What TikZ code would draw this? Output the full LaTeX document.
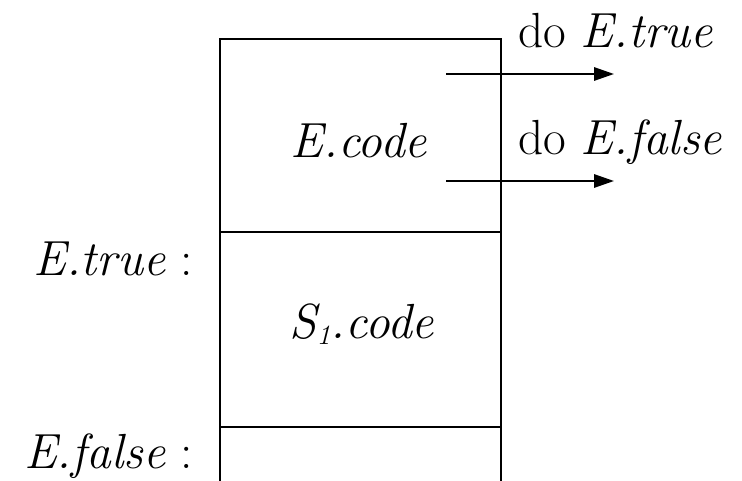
\documentclass[tikz,border=0pt]{standalone}
\usetikzlibrary{arrows.meta}
\tikzset{
  rotulo/.style={inner sep=0pt, font=\fontsize{37}{44}\selectfont},
  seta/.style={-{Triangle[length=15pt,width=10pt]}, line width=1.5pt}
}
\newcommand{\indice}[1]{\raisebox{-0.3ex}{\fontsize{21}{25}\selectfont\itshape #1}}
\begin{document}
\begin{tikzpicture}[x=0.75pt,y=-0.75pt, line width=1.5pt] %Início do desenho, 1 unidade = 1 pixel
  \useasboundingbox (0,0) rectangle (742,481);
					%Caixa do código
  \draw (220,481) -- (220,39) -- (501,39) -- (501,481); %Contorno
  \draw (220,232) -- (501,232); %Divisão E.code / S1.code
  \draw (220,427) -- (501,427); %Divisão S1.code / E.false
					%Textos
  \node[rotulo, anchor=base] (ecode) at (359,157) {\textit{E.code}};
  \node[rotulo, anchor=base] (scode) at (362,338) {\textit{S\indice{1}.code}};
  \node[rotulo, anchor=base east] (etrue) at (194,275) {\textit{E.true} :};
  \node[rotulo, anchor=base east] (efalse) at (194,468) {\textit{E.false} :};
  \node[rotulo, anchor=base west] (dotrue) at (517,48) {do \textit{E.true}};
  \node[rotulo, anchor=base west] (dofalse) at (517,155) {do \textit{E.false}};
					%Saltos
  \coordinate (ini1) at (446,74);
  \coordinate (fim1) at (614,74);
  \coordinate (ini2) at (446,181);
  \coordinate (fim2) at (614,181);
  \draw[seta] (ini1) -- (fim1); %Salto para E.true
  \draw[seta] (ini2) -- (fim2); %Salto para E.false
\end{tikzpicture}
\end{document}
